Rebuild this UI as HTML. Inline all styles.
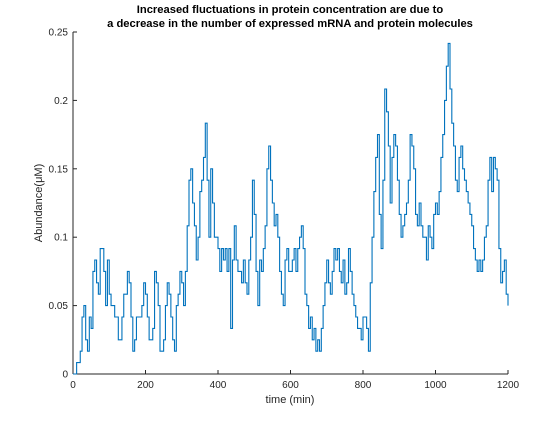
<!DOCTYPE html>
<html><head><meta charset="utf-8"><style>
body{margin:0;background:#fff;}
svg text{font-family:"Liberation Sans",sans-serif;}
</style></head><body>
<svg id="chart" width="560" height="420" xmlns="http://www.w3.org/2000/svg">
<rect width="560" height="420" fill="#fff"/>
<text x="290" y="13" text-anchor="middle" font-size="11.2" font-weight="bold" fill="#000">Increased fluctuations in protein concentration are due to</text>
<text x="290" y="27" text-anchor="middle" font-size="11.2" font-weight="bold" fill="#000">a decrease in the number of expressed mRNA and protein molecules</text>
<g id="axes"></g>
<path id="series" fill="none" stroke="#0072BD" stroke-width="1.1"/>
<text x="290" y="403" text-anchor="middle" font-size="11" fill="#262626">time (min)</text>
<text transform="translate(42,203) rotate(-90)" text-anchor="middle" font-size="11" fill="#262626">Abundance(μM)</text>
</svg>
<script>
const step = 5;
const counts = [0,0,1,1,2,5,6,3,2,5,4,9,10,8,7,11,11,9,6,10,7,6,6,5,5,3,3,5,7,7,9,8,5,2,3,5,5,5,6,8,7,5,3,3,4,9,8,6,2,2,3,6,8,7,5,3,2,6,7,9,8,6,9,13,17,18,15,13,10,12,16,17,19,22,17,12,18,15,12,12,11,9,11,10,11,9,11,4,10,13,10,9,9,8,10,8,7,10,12,17,14,9,6,10,9,11,13,18,20,17,15,13,14,12,9,7,6,10,11,9,
9,10,11,9,11,12,13,11,7,6,4,5,3,4,2,3,2,4,6,8,10,8,7,9,11,10,11,9,8,10,7,8,11,9,7,6,5,4,4,3,5,5,4,2,8,12,16,19,21,14,11,17,25,23,20,15,19,21,20,17,14,12,13,14,15,17,21,20,18,14,13,15,13,12,12,10,13,12,11,14,15,14,16,19,21,24,27,29,25,22,20,17,16,19,20,18,17,16,15,14,13,11,10,9,10,9,10,12,13,17,19,16,19,18,17,11,8,9,10,7,6];
const unit = 1/120;
const xTicks = [0,200,400,600,800,1000,1200];
const yTicks = [0,0.05,0.1,0.15,0.2,0.25];
const yTickLabels = ["0","0.05","0.1","0.15","0.2","0.25"];
const X0=73,X1=508,Y0=374,Y1=32;
const xs = t => X0 + t/1200*(X1-X0);
const ys = v => Y0 - v/0.25*(Y0-Y1);
const NS="http://www.w3.org/2000/svg";
const ax=document.getElementById('axes');
function mk(tag,attrs){const e=document.createElementNS(NS,tag);for(const k in attrs)e.setAttribute(k,attrs[k]);ax.appendChild(e);return e;}
let e=mk('line',{x1:X0,y1:Y0,x2:X1,y2:Y0,stroke:'#262626'});


e=mk('line',{x1:X0,y1:Y0,x2:X0,y2:Y1,stroke:'#262626'});


xTicks.forEach(t=>{
  const l=mk('line',{x1:xs(t),y1:Y0,x2:xs(t),y2:Y0-4,stroke:'#262626'});
  
  
  const tx=mk('text',{x:xs(t),y:Y0+14,'text-anchor':'middle','font-size':'10',fill:'#262626'});
  tx.textContent=t;
  
  
});
yTicks.forEach((v,i)=>{
  const l=mk('line',{x1:X0,y1:ys(v),x2:X0+4,y2:ys(v),stroke:'#262626'});
  
  
  const tx=mk('text',{x:X0-5,y:ys(v)+3.5,'text-anchor':'end','font-size':'10',fill:'#262626'});
  tx.textContent=yTickLabels[i];
  
  
});
let d='';
counts.forEach((c,i)=>{
  const x=xs(i*step), y=ys(c*unit);
  if(i===0) d+='M'+x+','+y; else d+='H'+x+'V'+y;
});
document.getElementById('series').setAttribute('d',d);
</script>
</body></html>
